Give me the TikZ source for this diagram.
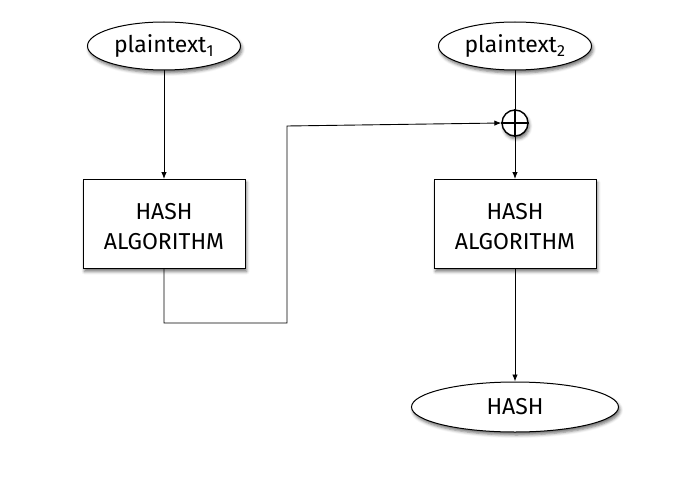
\documentclass[tikz,border=0pt]{standalone}
\usepackage{fontspec}
\setmainfont{Fira Sans}
\usetikzlibrary{shapes.geometric,shadows.blur,arrows.meta}
\begin{document}
\begin{tikzpicture}[x=1pt,y=-1pt,
  every node/.style={font=\fontsize{23}{30}\selectfont},
  shad/.style={blur shadow={shadow xshift=1.5pt,shadow yshift=-3pt,shadow blur radius=3pt,shadow opacity=55}},
  oval/.style={ellipse,draw,line width=1pt,fill=white,shad,inner sep=0pt},
  algbox/.style={rectangle,draw,line width=1pt,fill=white,shad,minimum width=162pt,minimum height=89pt,inner sep=0pt},
  boxtext/.style={align=center,inner sep=0pt},
  conn/.style={line width=0.9pt},
  arr/.style={conn,-{Latex[length=7pt,width=5.5pt]}}]
\useasboundingbox (0,0) rectangle (700,500);
\node[oval,minimum width=153pt,minimum height=48pt] (p1) at (164,46) {plaintext\textsubscript{1}};
\node[oval,minimum width=153pt,minimum height=48pt] (p2) at (515,46) {plaintext\textsubscript{2}};
\node[algbox] (h1) at (164,224) {};
\node[boxtext] (t1) at (164,227) {HASH\\ALGORITHM};
\node[algbox] (h2) at (515,224) {};
\node[boxtext] (t2) at (515,227) {HASH\\ALGORITHM};
\node[oval,minimum width=207pt,minimum height=50pt] (out) at (515,407) {HASH};
\node[circle,draw,line width=1.4pt,fill=white,shad,minimum size=26pt,inner sep=0pt] (x) at (515,123) {};
\draw[line width=1.2pt] (x.north) -- (x.south) (x.west) -- (x.east);
\coordinate (c1) at (164,323);
\coordinate (c2) at (287,323);
\coordinate (c3) at (287,126);
\draw[arr] (p1) -- (h1);
\draw[conn] (p2) -- (x);
\draw[arr] (x) -- (h2);
\draw[arr] (h2) -- (out);
\draw[arr] (h1.south) -- (c1) -- (c2) -- (c3) -- (x.west);
\end{tikzpicture}
\end{document}
